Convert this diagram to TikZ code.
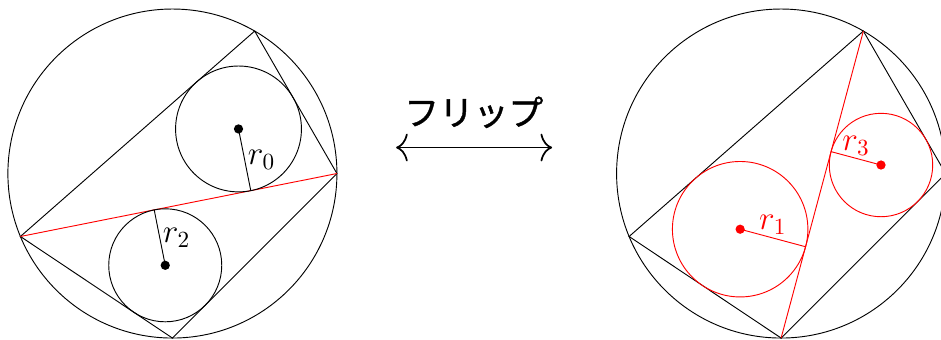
\documentclass[tikz,border=0pt]{standalone}
\usepackage{fontspec}
\newfontfamily\jpfont[FakeBold=1.2]{Noto Sans CJK JP}
\usetikzlibrary{arrows.meta,calc}

\begin{document}
\begin{tikzpicture}[
  every node/.style={font=\Large},
  rlabel/.style={inner sep=1.2pt},
  cmtip/.style={{Computer Modern Rightarrow[width=12pt,length=5pt]}-{Computer Modern Rightarrow[width=12pt,length=5pt]}}
]
  \useasboundingbox (-2.62,-2.523) rectangle (11.68,2.637);

  % Left: quadrilateral cut along L--R
  \coordinate (O) at (0,0);
  \coordinate (T) at (60:2.5);
  \coordinate (R) at (0:2.5);
  \coordinate (B) at (-90:2.5);
  \coordinate (L) at (202.5:2.5);
  \draw (O) circle (2.5);
  \draw (L) -- (T) -- (R) -- (B) -- cycle;
  \draw[red] (L) -- (R);

  % incircles of the two triangles
  \coordinate (I0) at (1.0045,0.6776);
  \coordinate (I2) at (-0.1089,-1.3945);
  \draw (I0) circle (0.9563);
  \draw (I2) circle (0.8587);
  \draw (I0) -- ($(L)!(I0)!(R)$) node[midway,right,rlabel] (lr0) {$r_0$};
  \draw (I2) -- ($(L)!(I2)!(R)$) node[midway,right,rlabel] (lr2) {$r_2$};
  \fill (I0) circle (2pt);
  \fill (I2) circle (2pt);

  % Flip arrow
  \coordinate (fl) at (3.40,0.395);
  \coordinate (fr) at (5.77,0.395);
  \node[font=\jpfont\fontsize{15}{18}\selectfont] (flip) at (4.58,0.93) {フリップ};
  \draw[cmtip, line width=0.75pt] (fl) -- (fr);

  % Right: same quadrilateral cut along T--B
  \begin{scope}[xshift=9.25cm]
    \coordinate (qO) at (0,0);
    \coordinate (qT) at (60:2.5);
    \coordinate (qR) at (0:2.5);
    \coordinate (qB) at (-90:2.5);
    \coordinate (qL) at (202.5:2.5);
    \draw (qO) circle (2.5);
    \draw (qL) -- (qT) -- (qR) -- (qB) -- cycle;
    \draw[red] (qT) -- (qB);

    \coordinate (I1) at (-0.6224,-0.8462);
    \coordinate (I3) at (1.518,0.1293);
    \draw[red] (I1) circle (1.0293);
    \draw[red] (I3) circle (0.7857);
    \draw[red] (I1) -- ($(qT)!(I1)!(qB)$) node[midway,above,rlabel,text=red] (lr1) {$r_1$};
    \draw[red] (I3) -- ($(qT)!(I3)!(qB)$) node[midway,above,rlabel,text=red] (lr3) {$r_3$};
    \fill[red] (I1) circle (2pt);
    \fill[red] (I3) circle (2pt);
  \end{scope}
\end{tikzpicture}
\end{document}
